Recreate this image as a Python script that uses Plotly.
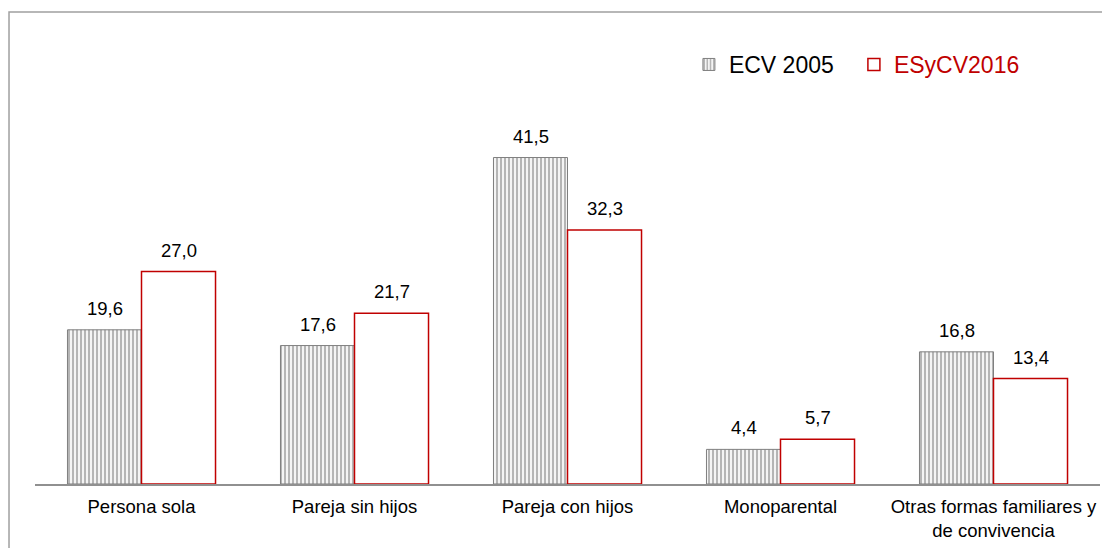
import plotly.graph_objects as go

categorias = ["Persona sola", "Pareja sin hijos", "Pareja con hijos", "Monoparental",
              "Otras formas familiares y<br>de convivencia"]
ecv_2005 = [19.6, 17.6, 41.5, 4.4, 16.8]
esycv_2016 = [27.0, 21.7, 32.3, 5.7, 13.4]

def fmt(v):
    return f"{v:.1f}".replace(".", ",")

fig = go.Figure()
fig.add_trace(go.Bar(
    x=categorias, y=ecv_2005, name="ECV 2005",
    marker=dict(color="white", line=dict(color="#7f7f7f", width=1),
                pattern=dict(shape="|", fgcolor="#767676", bgcolor="#f4f4f4", size=4, solidity=0.5)),
))
fig.add_trace(go.Bar(
    x=categorias, y=esycv_2016, name="<span style='color:#c00000'>ESyCV2016</span>",
    marker=dict(color="white", line=dict(color="#c00000", width=1.5)),
))

# etiquetas de datos
for serie, shift in [(ecv_2005, -37), (esycv_2016, 37)]:
    for c, v in zip(categorias, serie):
        fig.add_annotation(x=c, y=v, text=fmt(v), showarrow=False, xshift=shift,
                           yanchor="bottom", yshift=9,
                           font=dict(size=18.5, color="#000000"))

# marco del gráfico
fig.add_shape(type="rect", xref="paper", yref="paper",
              x0=-0.0244, x1=1.05, y0=-0.3, y1=1.333,
              line=dict(color="#a0a0a0", width=1.5), layer="below")

fig.update_layout(
    width=1110, height=548,
    margin=dict(l=27, r=18, t=122, b=72),
    paper_bgcolor="white", plot_bgcolor="white",
    font=dict(family="Liberation Sans, Arial, sans-serif", size=18.5, color="#000000"),
    barmode="group", bargap=0.305, bargroupgap=0,
    showlegend=True,
    legend=dict(orientation="h", x=0.614, y=1.185, xanchor="left", yanchor="middle",
                font=dict(size=23), bgcolor="rgba(0,0,0,0)", itemwidth=30,
                entrywidth=120),
)
fig.update_xaxes(showline=True, linecolor="#909090", linewidth=2, ticks="",
                 tickfont=dict(size=18.5), showgrid=False, ticklabelstandoff=5)
fig.update_yaxes(range=[0, 45], visible=False, showgrid=False)

fig.write_html("out.html")
